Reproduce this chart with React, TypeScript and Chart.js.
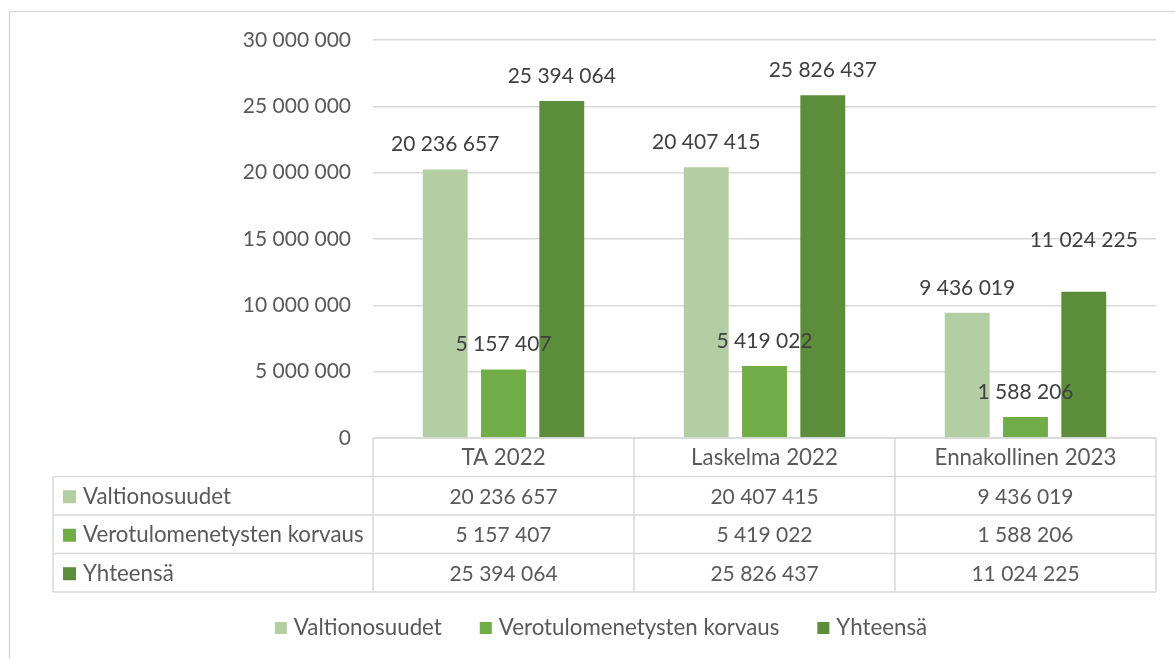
import React, { useEffect, useRef } from 'react';
import { Chart, registerables } from 'chart.js';

Chart.register(...registerables);

const categories = ['TA 2022', 'Laskelma 2022', 'Ennakollinen 2023'];
const seriesNames = ['Valtionosuudet', 'Verotulomenetysten korvaus', 'Yhteensä'];
const valtionosuudet = [20236657, 20407415, 9436019];
const verotulomenetystenKorvaus = [5157407, 5419022, 1588206];
const yhteensa = [25394064, 25826437, 11024225];
const yMin = 0;
const yMax = 30000000;
const yStep = 5000000;

const colors = ['#B4CEA4', '#70AD47', '#5B8D3A'];
const FONT_FAMILY = 'Lato, "Open Sans", sans-serif';
const FONT_SIZE = 21;
const WORD_FONT_SIZE = 22.3;
const GRID = '#D9D9D9';
const TEXT = '#595959';
const LABEL_TEXT = '#404040';

const fmt = (v: number) => String(Math.round(v)).replace(/\B(?=(\d{3})+(?!\d))/g, ' ');

const tablePlugin = {
  id: 'excelTable',
  beforeDraw(chart: any) {
    const { ctx } = chart;
    ctx.save();
    ctx.strokeStyle = GRID;
    ctx.lineWidth = 1.5;
    ctx.beginPath();
    ctx.moveTo(9.5, 2000);
    ctx.lineTo(9.5, 11.5);
    ctx.lineTo(2000, 11.5);
    ctx.stroke();
    ctx.restore();
  },
  afterDraw(chart: any, _args: any, opts: any) {
    const { ctx, chartArea: ca } = chart;
    const data = chart.data;
    const n = data.labels.length;
    const colW = (ca.right - ca.left) / n;
    const labelLeft = opts.labelLeft;
    const rowH = opts.rowHeight;
    const headerBottom = ca.bottom + rowH;
    const rows = data.datasets.length;
    const tableBottom = headerBottom + rows * rowH;
    const numFont = `${FONT_SIZE}px ${FONT_FAMILY}`;
    const wordFont = `${WORD_FONT_SIZE}px ${FONT_FAMILY}`;

    ctx.save();
    // data labels on bars
    ctx.font = numFont;
    ctx.fillStyle = LABEL_TEXT;
    ctx.textAlign = 'center';
    ctx.textBaseline = 'middle';
    data.datasets.forEach((ds: any, i: number) => {
      const meta = chart.getDatasetMeta(i);
      meta.data.forEach((bar: any, j: number) => {
        const extra = (opts.extraLift && opts.extraLift[`${i}-${j}`]) || 0;
        ctx.fillText(fmt(ds.data[j]), bar.x, bar.y - opts.labelLift - extra);
      });
    });

    // table lines
    ctx.strokeStyle = GRID;
    ctx.lineWidth = 1.5;
    ctx.beginPath();
    ctx.moveTo(ca.left, ca.bottom);
    ctx.lineTo(ca.right, ca.bottom);
    for (let r = 0; r <= rows; r++) {
      const y = headerBottom + r * rowH;
      ctx.moveTo(labelLeft, y);
      ctx.lineTo(ca.right, y);
    }
    for (let c = 0; c <= n; c++) {
      const x = ca.left + c * colW;
      ctx.moveTo(x, ca.bottom);
      ctx.lineTo(x, tableBottom);
    }
    ctx.moveTo(labelLeft, headerBottom);
    ctx.lineTo(labelLeft, tableBottom);
    ctx.stroke();

    // header texts
    ctx.fillStyle = TEXT;
    ctx.font = wordFont;
    ctx.textAlign = 'center';
    ctx.textBaseline = 'middle';
    data.labels.forEach((lab: string, c: number) => {
      ctx.fillText(lab, ca.left + (c + 0.5) * colW, ca.bottom + rowH / 2 + 1);
    });
    // rows
    data.datasets.forEach((ds: any, r: number) => {
      const yc = headerBottom + (r + 0.5) * rowH + 1;
      ctx.fillStyle = ds.backgroundColor;
      ctx.fillRect(labelLeft + 10, yc - 6.5, 13, 13);
      ctx.fillStyle = TEXT;
      ctx.textAlign = 'left';
      ctx.font = wordFont;
      ctx.fillText(ds.label, labelLeft + 30, yc);
      ctx.textAlign = 'center';
      ctx.font = numFont;
      ds.data.forEach((v: number, c: number) => {
        ctx.fillText(fmt(v), ca.left + (c + 0.5) * colW, yc);
      });
    });

    // legend
    ctx.font = wordFont;
    const sq = 12;
    const gapSq = 7;
    const gapItem = 38;
    const widths = data.datasets.map((ds: any) => ctx.measureText(ds.label).width);
    const total = widths.reduce((a: number, w: number) => a + sq + gapSq + w, 0) + gapItem * (widths.length - 1);
    let x = opts.legendCenter - total / 2;
    const ly = opts.legendY;
    data.datasets.forEach((ds: any, i: number) => {
      ctx.fillStyle = ds.backgroundColor;
      ctx.fillRect(x, ly - sq / 2, sq, sq);
      ctx.fillStyle = TEXT;
      ctx.textAlign = 'left';
      ctx.fillText(ds.label, x + sq + gapSq, ly);
      x += sq + gapSq + widths[i] + gapItem;
    });
    ctx.restore();
  },
};

export default function App() {
  const ref = useRef<HTMLCanvasElement | null>(null);
  useEffect(() => {
    if (!ref.current) return;
    const series = [valtionosuudet, verotulomenetystenKorvaus, yhteensa];
    const chart = new Chart(ref.current, {
      type: 'bar',
      data: {
        labels: categories,
        datasets: series.map((d, i) => ({
          label: seriesNames[i],
          data: d,
          backgroundColor: colors[i],
          borderWidth: 0,
          categoryPercentage: 0.67,
          barPercentage: 0.77,
        })),
      },
      plugins: [tablePlugin],
      options: {
        responsive: false,
        animation: false,
        layout: { padding: { left: 0, right: 19, top: 40, bottom: 221 } },
        plugins: {
          legend: { display: false },
          tooltip: { enabled: false },
          excelTable: {
            labelLeft: 53,
            rowHeight: 38.5,
            labelLift: 25,
            extraLift: { '2-2': 27 },
            legendY: 628,
            legendCenter: 601,
          },
        } as any,
        scales: {
          x: { display: false },
          y: {
            min: yMin,
            max: yMax,
            afterFit: (scale: any) => { scale.width = 373; },
            border: { display: false },
            grid: { color: GRID, lineWidth: 1.5, drawTicks: false },
            ticks: {
              stepSize: yStep,
              padding: 22,
              color: TEXT,
              font: { family: FONT_FAMILY, size: FONT_SIZE },
              callback: (v: any) => fmt(Number(v)),
            },
          },
        },
      },
    });
    return () => chart.destroy();
  }, []);
  return (
    <div style={{ position: 'fixed', left: 0, top: 0, width: 1175, height: 659, background: '#fff' }}>
      <canvas ref={ref} width={1175} height={659} />
    </div>
  );
}
